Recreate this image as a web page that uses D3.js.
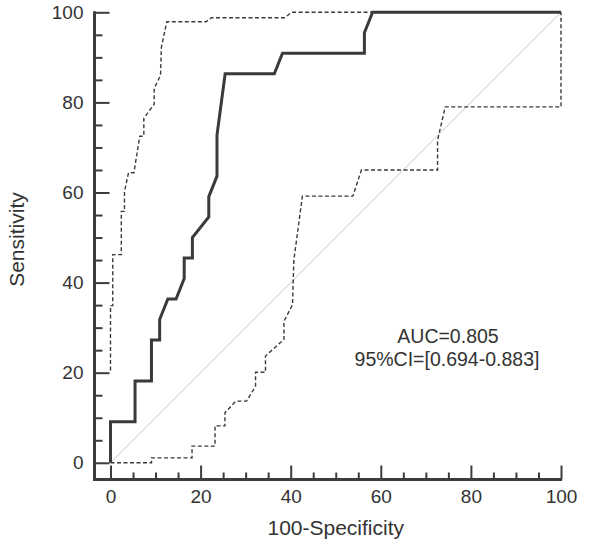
<!DOCTYPE html>
<html>
<head>
<meta charset="utf-8">
<script src="https://cdn.jsdelivr.net/npm/d3@7"></script>
<style>
  html, body { margin: 0; padding: 0; background: #fff; }
  svg { display: block; }
  text { font-family: "Liberation Sans", Arial, Helvetica, sans-serif; fill: #333; }
</style>
</head>
<body>
<svg id="chart" width="600" height="548"></svg>
<script>
// ROC curve (100-Specificity, Sensitivity)
const rocX = [0, 0, 5.45, 5.45, 9.09, 9.09, 10.91, 10.91, 12.73, 14.55, 16.36, 16.36, 18.18, 18.18, 21.82, 21.82, 23.64, 23.64, 25.45, 36.36, 38.18, 56.36, 56.36, 58.18, 100];
const rocY = [0, 9.09, 9.09, 18.18, 18.18, 27.27, 27.27, 31.82, 36.36, 36.36, 40.91, 45.45, 45.45, 50.0, 54.55, 59.09, 63.64, 72.73, 86.36, 86.36, 90.91, 90.91, 95.45, 100, 100];

// Upper 95% confidence bound
const upperX = [0, 0, 0.5, 0.5, 2.4, 2.4, 3.1, 3.1, 4.0, 5.2, 6.5, 7.4, 7.4, 9.7, 9.7, 11.1, 11.3, 12.5, 21.2, 22.4, 38.7, 40.2, 100];
const upperY = [20.5, 34.9, 34.9, 46.2, 46.2, 55.8, 55.8, 60.2, 64.4, 64.4, 72.5, 72.5, 76.5, 79.6, 83.1, 86.0, 92.3, 97.9, 97.9, 98.8, 98.8, 100, 100];

// Lower 95% confidence bound
const lowerX = [0, 9.1, 9.1, 18.1, 18.1, 23.2, 23.2, 25.4, 25.4, 27.8, 30.2, 32.2, 32.2, 34.4, 34.4, 38.5, 38.5, 40.4, 40.7, 42.6, 53.8, 55.7, 72.6, 72.6, 74.3, 100, 100];
const lowerY = [0, 0, 1.1, 1.1, 3.7, 3.7, 8.2, 8.2, 11.1, 13.7, 13.7, 17.0, 20.1, 20.1, 23.7, 27.4, 31.4, 35.1, 45.0, 59.2, 59.2, 65.0, 65.0, 71.6, 79.0, 79.0, 100];

// Chance diagonal
const diagX = [0, 100];
const diagY = [0, 100];

// Ticks
const majorTicks = [0, 20, 40, 60, 80, 100];
const minorTicks = [5, 10, 15, 25, 30, 35, 45, 50, 55, 65, 70, 75, 85, 90, 95];

const xTitle = "100-Specificity";
const yTitle = "Sensitivity";
const aucLines = ["AUC=0.805", "95%CI=[0.694-0.883]"];

const svg = d3.select("#chart");
const x = d3.scaleLinear().domain([0, 100]).range([110.5, 561]);
const y = d3.scaleLinear().domain([0, 100]).range([462.8, 12.3]);

const axisColor = "#3c3c3c";
const yAxisX = x(0) - 16;
const xAxisY = y(0) + 16.7;

const toPts = (xs, ys) => xs.map((v, i) => [v, ys[i]]);
const line = d3.line().x(d => x(d[0])).y(d => y(d[1]));

// Diagonal
svg.append("path").attr("d", line(toPts(diagX, diagY)))
  .attr("fill", "none").attr("stroke", "#c4c4c4").attr("stroke-width", 1);

// X axis
const gx = svg.append("g").attr("transform", `translate(0,${xAxisY})`);
gx.call(d3.axisBottom(x).tickValues(majorTicks).tickSize(-14).tickSizeOuter(0).tickPadding(10));
const gxm = svg.append("g").attr("transform", `translate(0,${xAxisY})`);
gxm.call(d3.axisBottom(x).tickValues(minorTicks).tickSize(-7).tickSizeOuter(0).tickFormat(""));

// Y axis
const gy = svg.append("g").attr("transform", `translate(${yAxisX},0)`);
gy.call(d3.axisLeft(y).tickValues(majorTicks).tickSize(-15).tickSizeOuter(0).tickPadding(11));
const gym = svg.append("g").attr("transform", `translate(${yAxisX},0)`);
gym.call(d3.axisLeft(y).tickValues(minorTicks).tickSize(-8).tickSizeOuter(0).tickFormat(""));

[gx, gxm, gy, gym].forEach(g => {
  g.select(".domain").remove();
  g.selectAll(".tick line").attr("stroke", axisColor).attr("stroke-width", 2);
  g.selectAll(".tick text").style("font-size", "19px").attr("fill", "#333");
});

// Axis lines
svg.append("line").attr("x1", yAxisX).attr("x2", x(100) + 1)
  .attr("y1", xAxisY).attr("y2", xAxisY)
  .attr("stroke", axisColor).attr("stroke-width", 3);
svg.append("line").attr("x1", yAxisX).attr("x2", yAxisX)
  .attr("y1", y(100) - 1).attr("y2", xAxisY + 1.5)
  .attr("stroke", axisColor).attr("stroke-width", 3);

// CI bounds
svg.append("path").attr("d", line(toPts(upperX, upperY)))
  .attr("fill", "none").attr("stroke", "#3a3a3a").attr("stroke-width", 1.4)
  .attr("stroke-dasharray", "4,2.5");
svg.append("path").attr("d", line(toPts(lowerX, lowerY)))
  .attr("fill", "none").attr("stroke", "#3a3a3a").attr("stroke-width", 1.4)
  .attr("stroke-dasharray", "4,2.5");

// ROC curve
svg.append("path").attr("d", line(toPts(rocX, rocY)))
  .attr("fill", "none").attr("stroke", "#3a3a3a").attr("stroke-width", 3)
  .attr("stroke-linejoin", "miter");

// Titles
svg.append("text").attr("x", (x(0) + x(100)) / 2).attr("y", 535)
  .attr("text-anchor", "middle").style("font-size", "21px").text(xTitle);
svg.append("text")
  .attr("transform", `translate(24,${(y(0) + y(100)) / 2 + 2}) rotate(-90)`)
  .attr("text-anchor", "middle").style("font-size", "21px").text(yTitle);

// AUC annotation
svg.append("text").attr("x", 448).attr("y", 343)
  .attr("text-anchor", "middle").style("font-size", "19.5px").text(aucLines[0]);
svg.append("text").attr("x", 447).attr("y", 365.5)
  .attr("text-anchor", "middle").style("font-size", "19.5px").text(aucLines[1]);
</script>
</body>
</html>
